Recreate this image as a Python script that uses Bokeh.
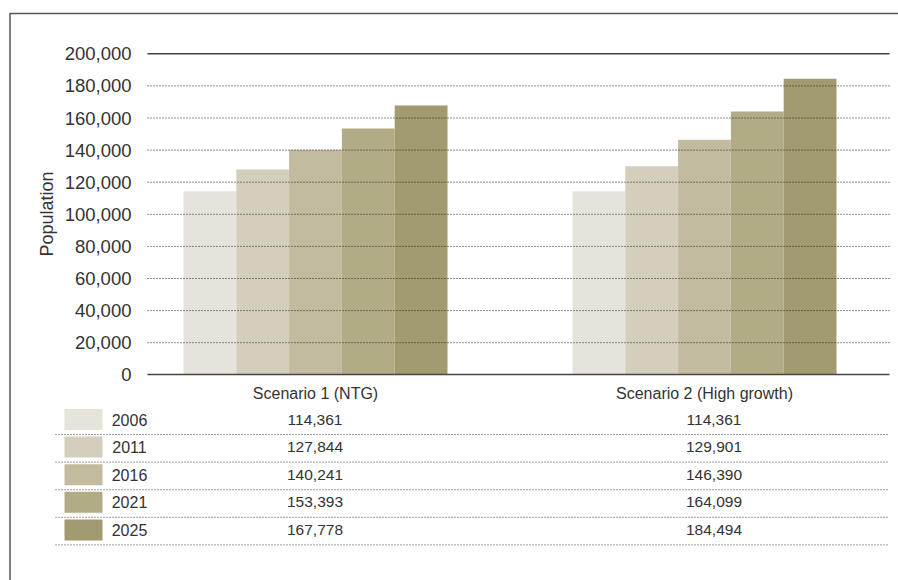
from bokeh.plotting import figure
from bokeh.models import Range1d, LinearAxis, FixedTicker, NumeralTickFormatter
from bokeh.core.properties import value
from bokeh.embed import file_html
from bokeh.resources import INLINE

# ---------------- data ----------------
scenarios = ["Scenario 1 (NTG)", "Scenario 2 (High growth)"]
years = ["2006", "2011", "2016", "2021", "2025"]
scenario1 = [114361, 127844, 140241, 153393, 167778]
scenario2 = [114361, 129901, 146390, 164099, 184494]
y_ticks = [0, 20000, 40000, 60000, 80000, 100000, 120000, 140000, 160000, 180000, 200000]
colors = ["#E6E4DA", "#D4CEBC", "#C3BB9F", "#B1AB86", "#A19B6F"]

# ---------------- layout constants (pixels) ----------------
W, H = 898, 580
PX_PER_CAT = 389.0
CAT0_PX = 315.0
Y0_PX, YTOP_PX = 374.3, 53.3
Y_MAX = 200000
PLOT_L, PLOT_R = 147, 889
BAR_W = 52.8 / PX_PER_CAT
FONT = "Liberation Sans"
TXT = "#333333"

scale = (Y0_PX - YTOP_PX) / Y_MAX
def px_to_x(px):
    return (px - CAT0_PX) / PX_PER_CAT

p = figure(width=W, height=H, output_backend="svg", toolbar_location=None,
           x_axis_type=None, y_axis_type=None,
           x_range=Range1d(px_to_x(0), px_to_x(W)),
           y_range=Range1d(-(H - Y0_PX) / scale, Y0_PX / scale),
           min_border=0, min_border_left=0, min_border_right=0,
           min_border_top=0, min_border_bottom=0)
p.extra_x_ranges = {"px_x": Range1d(0, W)}
p.extra_y_ranges = {"px_y": Range1d(H, 0)}
p.outline_line_color = None
p.background_fill_color = "white"
p.border_fill_color = "white"

# ---------------- bars ----------------
series = [list(v) for v in zip(scenario1, scenario2)]  # per year: [s1, s2]
for j, (yr, vals) in enumerate(zip(years, series)):
    xs = [i + (j - 2) * BAR_W for i in range(len(scenarios))]
    p.vbar(x=xs, top=vals, bottom=0, width=BAR_W, fill_color=colors[j], line_color=None)

# ---------------- gridlines (over bars) ----------------
grid_vals = [t for t in y_ticks if 0 < t < Y_MAX]
p.segment(x0=[PLOT_L] * len(grid_vals), x1=[PLOT_R] * len(grid_vals), y0=grid_vals, y1=grid_vals,
          x_range_name="px_x", line_color="#222222", line_width=1, line_dash="1 2")
p.segment(x0=[PLOT_L], x1=[PLOT_R], y0=[Y_MAX], y1=[Y_MAX], x_range_name="px_x",
          line_color="#444444", line_width=1.4)

# ---------------- axes ----------------
yaxis = LinearAxis(fixed_location=px_to_x(PLOT_L), bounds=(0, Y_MAX),
                   ticker=FixedTicker(ticks=y_ticks),
                   formatter=NumeralTickFormatter(format="0,0"),
                   axis_label="Population")
yaxis.axis_line_color = None
yaxis.major_tick_line_color = None
yaxis.minor_tick_line_color = None
yaxis.major_label_standoff = 10
yaxis.major_label_text_font = FONT
yaxis.major_label_text_font_size = "18.5px"
yaxis.major_label_text_color = TXT
yaxis.axis_label_text_font = FONT
yaxis.axis_label_text_font_size = "18px"
yaxis.axis_label_text_font_style = "normal"
yaxis.axis_label_text_color = TXT
yaxis.axis_label_standoff = 5
p.add_layout(yaxis, "left")

xaxis = LinearAxis(fixed_location=0, bounds=(px_to_x(PLOT_L), px_to_x(PLOT_R)),
                   ticker=FixedTicker(ticks=list(range(len(scenarios)))),
                   major_label_overrides={i: s for i, s in enumerate(scenarios)})
xaxis.axis_line_color = "#444444"
xaxis.axis_line_width = 1.4
xaxis.major_tick_line_color = None
xaxis.minor_tick_line_color = None
xaxis.major_label_standoff = 4
xaxis.major_label_text_font = FONT
xaxis.major_label_text_font_size = "16px"
xaxis.major_label_text_color = TXT
p.add_layout(xaxis, "below")

# ---------------- data table ----------------
ROW0, ROW_H = 419.0, 27.6
rows_y = [ROW0 + ROW_H * i for i in range(len(years))]
p.quad(left=[64] * len(years), right=[102] * len(years),
       top=[y - 10.5 for y in rows_y], bottom=[y + 10.5 for y in rows_y],
       fill_color=colors, line_color=None, x_range_name="px_x", y_range_name="px_y")
p.text(x=[129] * len(years), y=rows_y, text=years, text_align="center", text_baseline="middle",
       text_font=value(FONT), text_font_size=value("16px"), text_color=TXT,
       x_range_name="px_x", y_range_name="px_y")
col_centers = [314.5, 713.5]
for c, vals in zip(col_centers, [scenario1, scenario2]):
    p.text(x=[c] * len(vals), y=rows_y, text=[f"{v:,}" for v in vals],
           text_align="center", text_baseline="middle",
           text_font=value(FONT), text_font_size=value("15.5px"), text_color=TXT,
           x_range_name="px_x", y_range_name="px_y")
sep_y = [y + 15 for y in rows_y]
p.segment(x0=[55] * len(sep_y), x1=[887] * len(sep_y), y0=sep_y, y1=sep_y,
          line_color="#444444", line_width=1, line_dash="1 2",
          x_range_name="px_x", y_range_name="px_y")

# ---------------- outer frame (left + top edges) ----------------
p.line(x=[9.5, 9.5, W], y=[H, 13, 13], line_color="#555555", line_width=1.5,
       x_range_name="px_x", y_range_name="px_y")

open("out.html", "w").write(file_html(p, INLINE))
